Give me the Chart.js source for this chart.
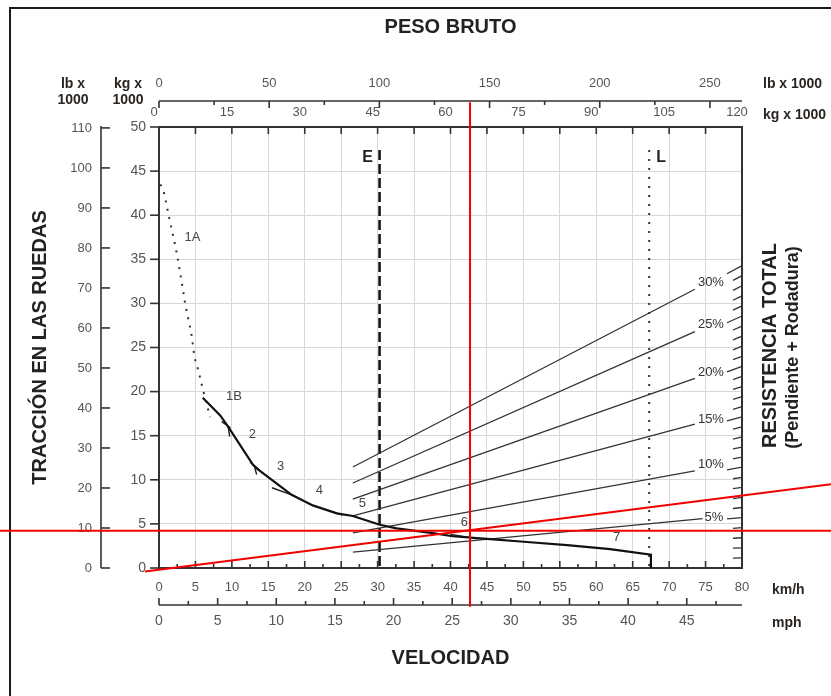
<!DOCTYPE html>
<html lang="es">
<head>
<meta charset="utf-8">
<title>Tracción en las ruedas - Resistencia total</title>
<script src="https://cdn.jsdelivr.net/npm/chart.js@4.4.1/dist/chart.umd.min.js"></script>
<style>
  html, body { margin: 0; padding: 0; background: #fff; }
  canvas { display: block; }
</style>
</head>
<body>
<canvas id="chart" width="831" height="696"></canvas>
<script>
// ---- datos (velocidad km/h, traccion kg x 1000) ----
// marcha 1A (punteada)
const gear1AKmh = [0.2, 0.7, 1.5, 2.3, 3.0, 3.6, 4.4, 4.9, 5.4, 6.0, 6.7, 7.0];
const gear1AKg  = [43.5, 42.5, 39.3, 36.3, 33.0, 29.9, 26.8, 23.8, 22.4, 20.3, 18.1, 17.1];

// curva 1B..7 (continua)
const rimpullKmh = [6.0, 8.4, 9.5, 12.9, 13.4, 18.2, 21.1, 24.4, 26.6, 30.3, 32.6, 37.6, 40.3, 45.0, 50.5, 56.0, 61.9, 67.5, 67.5];
const rimpullKg  = [19.3, 17.3, 16.0, 11.7, 11.3, 8.3, 7.1, 6.2, 5.9, 4.9, 4.5, 3.95, 3.6, 3.3, 2.95, 2.6, 2.15, 1.5, 0];

// pequeños trazos en los cambios de marcha
const shiftKmh = [8.6, 9.8, null, 9.5, 9.7, null, 12.5, 13.8, null, 13.1, 13.4, null, 15.5, 18.5, null, 23.3, 25.2, null, 40.0, 43.5];
const shiftKg  = [16.6, 15.9, null, 16.0, 14.9, null, 12.0, 11.1, null, 11.5, 10.6, null, 9.1, 8.2, null, 6.5, 6.0, null, 3.8, 3.35];

const gearNames    = ['1A', '1B', '2', '3', '4', '5', '6', '7'];
const gearLabelKmh = [4.6, 10.3, 12.8, 16.7, 22.0, 27.9, 41.9, 62.8];
const gearLabelKg  = [37.5, 19.4, 15.2, 11.5, 8.8, 7.3, 5.2, 3.5];

// lineas de resistencia total (peso bruto kg x 1000, traccion kg x 1000)
const gradeNames   = ['30%', '25%', '20%', '15%', '10%', '5%'];
const gradeStartWt = [39.9, 39.9, 39.9, 39.9, 39.9, 39.9];
const gradeStartKg = [11.45, 9.64, 7.82, 5.9, 3.97, 1.8];
const gradeEndWt   = [110.3, 110.3, 110.3, 110.3, 110.3, 111.9];
const gradeEndKg   = [31.6, 26.8, 21.5, 16.3, 11.0, 5.6];
const gradeLabelWt = [113.6, 113.6, 113.6, 113.6, 113.6, 114.2];
const gradeLabelKg = [32.4, 27.6, 22.2, 16.8, 11.7, 5.7];

// vacio (E) y cargado (L), peso bruto kg x 1000
const markerNames = ['E', 'L'];
const markerWt    = [45.4, 100.9];
const markerTopKg = [47.4, 47.4];

// trazos rojos añadidos sobre el grafico (km/h, kg x 1000)
const redHorizKmh = [-22.0, 92.5];
const redHorizKg  = [4.23, 4.23];
const redVertKmh  = [42.68, 42.68];
const redVertKg   = [52.8, -4.4];
const redDiagKmh  = [-1.92, 92.2];
const redDiagKg   = [-0.39, 9.5];

// escalas
const kmhTicks    = [0, 5, 10, 15, 20, 25, 30, 35, 40, 45, 50, 55, 60, 65, 70, 75, 80];
const mphTicks    = [0, 5, 10, 15, 20, 25, 30, 35, 40, 45];
const forceTicks  = [0, 5, 10, 15, 20, 25, 30, 35, 40, 45, 50];
const lbLeftTicks = [0, 10, 20, 30, 40, 50, 60, 70, 80, 90, 100, 110];
const wtTicks     = [0, 15, 30, 45, 60, 75, 90, 105, 120];
const lbTopTicks  = [0, 50, 100, 150, 200, 250];
const gradeTicks  = [];
for (let p = 1; p <= 30; p++) gradeTicks.push(p);

const KG_PER_LB = 0.45359237;
const KMH_PER_MPH = 1.609344;
const KG_PER_PCT = 1.143; // 1 % de resistencia en el eje derecho

Chart.defaults.font.family = '"Liberation Sans", Arial, Helvetica, sans-serif';
Chart.defaults.color = '#555';

const pts = (xs, ys) => xs.map((x, i) => ({ x: x, y: ys[i] }));
const setTicks = vals => scale => { scale.ticks = vals.map(v => ({ value: v })); };
const setH = h => scale => { scale.height = h; };
const setW = w => scale => { scale.width = w; };

const datasets = [
  { data: pts(redDiagKmh, redDiagKg), borderColor: '#f20000', borderWidth: 2, clip: false },
  { data: pts(redHorizKmh, redHorizKg), borderColor: '#f20000', borderWidth: 2, clip: false },
  { data: pts(redVertKmh, redVertKg), borderColor: '#f20000', borderWidth: 2, clip: false },
  { data: pts(rimpullKmh, rimpullKg), borderColor: '#111', borderWidth: 2.2 },
  { data: pts(shiftKmh, shiftKg), borderColor: '#222', borderWidth: 1.4 },
  { data: pts(gear1AKmh, gear1AKg), borderColor: '#333', borderWidth: 2, borderDash: [2, 6.5] }
];
gradeNames.forEach((n, i) => {
  datasets.push({
    data: [{ x: gradeStartWt[i], y: gradeStartKg[i] }, { x: gradeEndWt[i], y: gradeEndKg[i] }],
    xAxisID: 'wt', borderColor: '#333', borderWidth: 1.3
  });
});
datasets.push({
  data: [{ x: markerWt[0], y: markerTopKg[0] }, { x: markerWt[0], y: 0 }],
  xAxisID: 'wt', borderColor: '#111', borderWidth: 2.5, borderDash: [10, 4]
});
datasets.push({
  data: [{ x: markerWt[1], y: markerTopKg[1] }, { x: markerWt[1], y: 0 }],
  xAxisID: 'wt', borderColor: '#333', borderWidth: 2, borderDash: [2, 7]
});
datasets.forEach(d => {
  d.xAxisID = d.xAxisID || 'kmh';
  d.yAxisID = 'force';
  d.pointRadius = 0;
  d.tension = 0;
  d.fill = false;
});

function seg(ctx, x1, y1, x2, y2) {
  ctx.beginPath();
  ctx.moveTo(x1, y1);
  ctx.lineTo(x2, y2);
  ctx.stroke();
}

const extras = {
  id: 'extras',
  beforeDatasetsDraw(chart) {
    const { ctx, chartArea: a, scales: s } = chart;
    ctx.save();
    // marco de la pagina
    ctx.fillStyle = '#1c1c1c';
    ctx.fillRect(9, 7, chart.width - 9, 2);
    ctx.fillRect(9, 7, 2, chart.height - 7);

    ctx.strokeStyle = '#333';
    ctx.lineWidth = 2;
    ctx.strokeRect(a.left, a.top, a.right - a.left, a.bottom - a.top);

    ctx.lineWidth = 1.6;
    // eje superior lb x 1000
    const yLb = s.lbTop.bottom;
    seg(ctx, a.left, yLb, a.right, yLb);
    for (let v = 0; v <= 250; v += 25) {
      const x = s.lbTop.getPixelForValue(v);
      seg(ctx, x, yLb, x, yLb + (v % 50 === 0 ? 7 : 4));
    }
    // eje superior kg x 1000
    for (let v = 7.5; v < 120; v += 7.5) {
      const x = s.wt.getPixelForValue(v);
      seg(ctx, x, a.top, x, a.top + 7);
    }
    // km/h
    for (let v = 2.5; v < 80; v += 2.5) {
      const x = s.kmh.getPixelForValue(v);
      seg(ctx, x, a.bottom, x, a.bottom - (v % 5 === 0 ? 7 : 4));
    }
    // mph
    const yMph = s.mph.top;
    seg(ctx, a.left, yMph, a.right, yMph);
    for (let v = 0; v <= 47.5; v += 2.5) {
      const x = s.mph.getPixelForValue(v);
      seg(ctx, x, yMph, x, yMph - (v % 5 === 0 ? 7 : 4));
    }
    // traccion kg x 1000
    forceTicks.forEach(v => {
      const y = s.force.getPixelForValue(v);
      seg(ctx, a.left - 9, y, a.left, y);
    });
    // traccion lb x 1000
    const xLb = s.lbLeft.right;
    seg(ctx, xLb, a.top - 1, xLb, a.bottom);
    lbLeftTicks.forEach(v => {
      const y = s.lbLeft.getPixelForValue(v);
      seg(ctx, xLb, y, xLb + 9, y);
    });
    // eje derecho: marcas inclinadas de resistencia
    ctx.lineWidth = 1.3;
    const dx = s.wt.getPixelForValue(10) - s.wt.getPixelForValue(0);
    gradeTicks.forEach(p => {
      const y = s.grade.getPixelForValue(p);
      const k = (s.force.getPixelForValue(0) - s.force.getPixelForValue(p / 100 * 10)) / dx;
      const len = p % 5 === 0 ? 15 : 9;
      seg(ctx, a.right - len, y + len * k, a.right, y);
    });
    ctx.restore();
  },
  afterDatasetsDraw(chart) {
    const { ctx, chartArea: a, scales: s } = chart;
    const fam = '"Liberation Sans", Arial, sans-serif';
    ctx.save();
    ctx.textAlign = 'center';
    ctx.textBaseline = 'middle';

    ctx.font = '13px ' + fam;
    ctx.fillStyle = '#444';
    gearNames.forEach((n, i) => {
      ctx.fillText(n, s.kmh.getPixelForValue(gearLabelKmh[i]), s.force.getPixelForValue(gearLabelKg[i]));
    });
    ctx.fillStyle = '#333';
    gradeNames.forEach((n, i) => {
      ctx.fillText(n, s.wt.getPixelForValue(gradeLabelWt[i]), s.force.getPixelForValue(gradeLabelKg[i]));
    });

    ctx.font = 'bold 16px ' + fam;
    ctx.fillStyle = '#222';
    markerNames.forEach((n, i) => {
      const x = s.wt.getPixelForValue(markerWt[i]) + (i === 0 ? -12 : 12);
      ctx.fillText(n, x, s.force.getPixelForValue(46.5));
    });

    // unidades
    ctx.font = 'bold 14px ' + fam;
    ctx.fillStyle = '#2a2420';
    const xLbL = s.lbLeft.right - 28;
    ctx.fillText('lb x', xLbL, 84);
    ctx.fillText('1000', xLbL, 100);
    const xKgL = a.left - 31;
    ctx.fillText('kg x', xKgL, 84);
    ctx.fillText('1000', xKgL, 100);
    ctx.textAlign = 'left';
    ctx.fillText('lb x 1000', a.right + 21, 84);
    ctx.fillText('kg x 1000', a.right + 21, 115);
    ctx.fillText('km/h', a.right + 30, 590);
    ctx.fillText('mph', a.right + 30, 623);

    // titulo derecho
    ctx.textAlign = 'center';
    ctx.fillStyle = '#222';
    const yc = (a.top + a.bottom) / 2;
    ctx.save();
    ctx.translate(a.right + 28, yc - 2);
    ctx.rotate(-Math.PI / 2);
    ctx.font = 'bold 20px ' + fam;
    ctx.fillText('RESISTENCIA TOTAL', 0, 0);
    ctx.restore();
    ctx.save();
    ctx.translate(a.right + 51, yc);
    ctx.rotate(-Math.PI / 2);
    ctx.font = 'bold 18px ' + fam;
    ctx.fillText('(Pendiente + Rodadura)', 0, 0);
    ctx.restore();
    ctx.restore();
  }
};

const titleFont = { size: 20, weight: 'bold' };
const hidden = { display: false, drawTicks: false };

new Chart(document.getElementById('chart'), {
  type: 'line',
  data: { datasets: datasets },
  options: {
    responsive: false,
    animation: false,
    events: [],
    layout: { padding: 0 },
    plugins: { legend: { display: false }, tooltip: { enabled: false } },
    scales: {
      kmh: {
        type: 'linear', position: 'bottom', weight: 0, min: 0, max: 80,
        afterBuildTicks: setTicks(kmhTicks), afterFit: setH(37),
        grid: { color: '#d8d8d8', lineWidth: 1, drawTicks: false },
        border: { display: false },
        ticks: { autoSkip: false, maxRotation: 0, padding: 12, font: { size: 13 } }
      },
      mph: {
        type: 'linear', position: 'bottom', weight: 1, min: 0, max: 80 / KMH_PER_MPH,
        afterBuildTicks: setTicks(mphTicks), afterFit: setH(91),
        grid: hidden, border: { display: false },
        ticks: { autoSkip: false, maxRotation: 0, padding: 8, font: { size: 14 } },
        title: { display: true, text: 'VELOCIDAD', color: '#222', font: titleFont, padding: { bottom: 26 } }
      },
      wt: {
        type: 'linear', position: 'top', weight: 0, min: 0, max: 120,
        afterBuildTicks: setTicks(wtTicks), afterFit: setH(26),
        grid: hidden, border: { display: false },
        ticks: { autoSkip: false, maxRotation: 0, padding: 7, labelOffset: -5, font: { size: 13 } }
      },
      lbTop: {
        type: 'linear', position: 'top', weight: 1, min: 0, max: 120 / KG_PER_LB,
        afterBuildTicks: setTicks(lbTopTicks), afterFit: setH(101),
        grid: hidden, border: { display: false },
        ticks: { autoSkip: false, maxRotation: 0, padding: 10, font: { size: 13 } },
        title: { display: true, text: 'PESO BRUTO', color: '#222', font: titleFont, padding: { top: 15 } }
      },
      force: {
        type: 'linear', position: 'left', weight: 0, min: 0, max: 50,
        afterBuildTicks: setTicks(forceTicks), afterFit: setW(58),
        grid: { color: '#d8d8d8', lineWidth: 1, drawTicks: false },
        border: { display: false },
        ticks: { autoSkip: false, padding: 13, font: { size: 14 } }
      },
      lbLeft: {
        type: 'linear', position: 'left', weight: 1, min: 0, max: 50 / KG_PER_LB,
        afterBuildTicks: setTicks(lbLeftTicks), afterFit: setW(101),
        grid: hidden, border: { display: false },
        ticks: { autoSkip: false, padding: 9, font: { size: 13 } },
        title: { display: true, text: 'TRACCIÓN EN LAS RUEDAS', color: '#222', font: titleFont, padding: { top: 28 } }
      },
      grade: {
        type: 'linear', position: 'right', min: 0, max: 50 / KG_PER_PCT,
        afterBuildTicks: setTicks(gradeTicks), afterFit: setW(89),
        grid: hidden, border: { display: false },
        ticks: { display: false }
      }
    }
  },
  plugins: [extras]
});
</script>
</body>
</html>
